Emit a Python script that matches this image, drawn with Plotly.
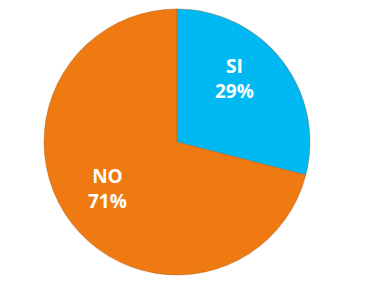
import math
import plotly.graph_objects as go

labels = ["SI", "NO"]
values = [29, 71]
colors = ["#00B9F2", "#F07A12"]

# label placement (fraction of radius, angle offset in degrees) -- layout only
label_radius = [0.64, 0.63]
label_angle_shift = [-10, 4]

W, H = 367, 302
ml, mr, mt, mb = 44, 57, 9, 27

fig = go.Figure(go.Pie(
    labels=labels, values=values, sort=False, direction="clockwise", rotation=0,
    marker=dict(colors=colors, line=dict(color="rgba(150,80,20,0.35)", width=1)),
    textinfo="none", hoverinfo="label+percent", showlegend=False,
))

total = sum(values)
cum = 0
annotations = []
for lab, v, rf, sh in zip(labels, values, label_radius, label_angle_shift):
    mid = (cum + v / 2) / total * 360 + sh
    cum += v
    x = 0.5 + rf * 0.5 * math.sin(math.radians(mid))
    y = 0.5 + rf * 0.5 * math.cos(math.radians(mid))
    annotations.append(dict(
        x=x, y=y, xref="paper", yref="paper", xanchor="center", yanchor="middle",
        showarrow=False,
        text=f"{lab}<br>{round(v / total * 100)}%", align="center",
        font=dict(family="Open Sans", size=19, color="white", weight="bold"),
    ))

fig.update_layout(
    width=W, height=H, margin=dict(l=ml, r=mr, t=mt, b=mb),
    paper_bgcolor="white", plot_bgcolor="white",
    annotations=annotations,
)
fig.write_html("out.html")
